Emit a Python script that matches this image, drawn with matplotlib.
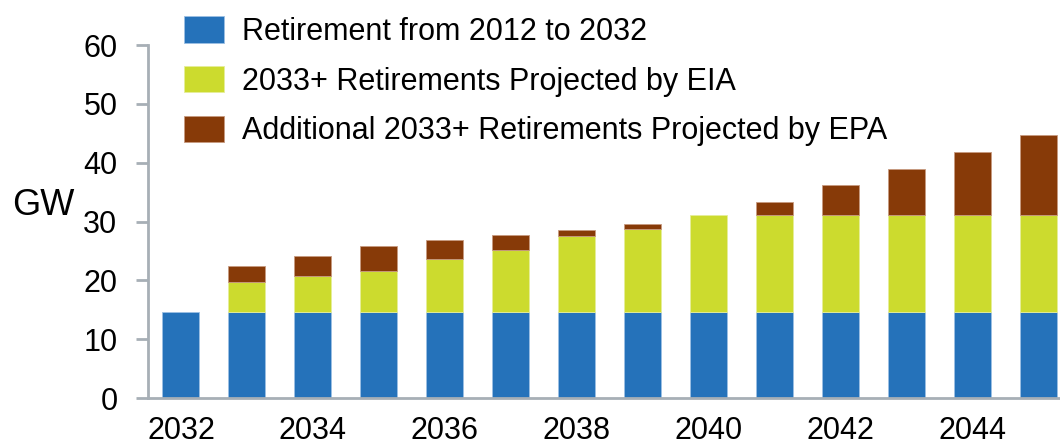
import numpy as np
import matplotlib
matplotlib.use('Agg')
from matplotlib import pyplot as plt

plt.rcParams['font.family'] = ['Liberation Sans', 'DejaVu Sans']

# values (GW)
years = np.arange(2032, 2046)
base = [14.7] * 14
eia = [0, 5.0, 6.0, 6.9, 9.0, 10.4, 12.8, 14.0, 16.5, 16.5, 16.5, 16.5, 16.5, 16.5]
epa = [0, 2.7, 3.4, 4.2, 3.1, 2.6, 1.1, 0.9, 0, 2.1, 5.0, 7.8, 10.6, 13.5]
labels = ['Retirement from 2012 to 2032',
          '2033+ Retirements Projected by EIA',
          'Additional 2033+ Retirements Projected by EPA']
colors = ['#2572BA', '#CCDB2E', '#873A08']

base = np.array(base, dtype=float)
eia = np.array(eia, dtype=float)
epa = np.array(epa, dtype=float)
# zero segments: hide them so no edge line is drawn
eia_h = np.where(eia > 0, eia, np.nan)
epa_h = np.where(epa > 0, epa, np.nan)

fig = plt.figure(figsize=(10.6, 4.47), dpi=100)
ax = fig.add_axes([0.1396, 0.1096, 0.8604, 0.7894])

w = 0.56
ax.bar(years, base, w, color=colors[0], edgecolor='#9CC0E4', linewidth=0.6, label=labels[0])
ax.bar(years, eia_h, w, bottom=base, color=colors[1], edgecolor='#E6EE9A', linewidth=0.6, label=labels[1])
ax.bar(years, epa_h, w, bottom=base + eia, color=colors[2], edgecolor='#C79A80', linewidth=0.6, label=labels[2])

ax.set_xlim(2031.5, 2045.32)
ax.set_ylim(0, 60)
ax.set_yticks(range(0, 61, 10))
ax.set_xticks(range(2032, 2045, 2))

gray = '#A7AFB6'
for s in ['top', 'right']:
    ax.spines[s].set_visible(False)
for s in ['left', 'bottom']:
    ax.spines[s].set_color(gray)
    ax.spines[s].set_linewidth(2)
ax.tick_params(axis='y', length=9, width=2, color=gray, labelsize=22, pad=13)
ax.tick_params(axis='x', length=0, labelsize=22, pad=13)

fig.text(0.011, 0.54, 'GW', fontsize=26, va='center', ha='left')

fig.legend(loc='upper left', bbox_to_anchor=(0.148, 1.025), frameon=False,
           fontsize=22, handlelength=1.3, handleheight=0.95,
           labelspacing=0.62, handletextpad=0.6)

plt.savefig('out.png', dpi=100)
